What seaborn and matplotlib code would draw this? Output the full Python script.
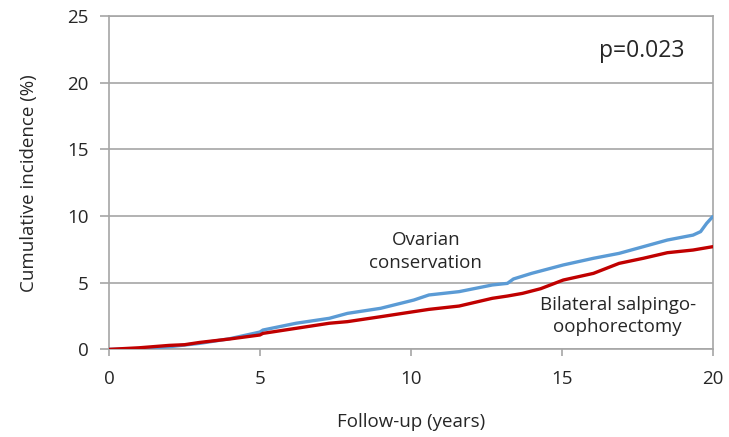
import matplotlib.pyplot as plt
import seaborn as sns
import pandas as pd

# follow-up years and cumulative incidence (%)
years_oc = [0, 1, 2, 3, 4, 5, 5.1, 6.2, 7.3, 7.9, 9.0, 10.1, 10.6, 11.6, 12.7, 13.2,
            13.4, 14.0, 15.05, 16.05, 16.9, 17.7, 18.5, 19.35, 19.6, 19.8, 20]
inc_oc = [0, 0.05, 0.2, 0.45, 0.8, 1.3, 1.45, 1.96, 2.33, 2.7, 3.08, 3.7, 4.08, 4.33, 4.83, 4.95,
          5.28, 5.7, 6.33, 6.83, 7.2, 7.7, 8.2, 8.57, 8.83, 9.45, 9.95]

years_bso = [0, 1, 2, 2.5, 3, 4, 5, 5.1, 6.2, 7.3, 7.9, 9.0, 10.1, 10.6, 11.6, 12.7, 13.2,
             13.7, 14.3, 15.05, 16.05, 16.9, 17.7, 18.5, 19.35, 20]
inc_bso = [0, 0.12, 0.3, 0.35, 0.52, 0.78, 1.08, 1.2, 1.58, 1.96, 2.08, 2.45, 2.83, 3.0, 3.25, 3.83, 4.0,
           4.2, 4.55, 5.2, 5.7, 6.45, 6.83, 7.25, 7.45, 7.7]

blue = "#5b9bd5"
red = "#c00000"
grey = "#a6a6a6"
txt = "#262626"

sns.set_style("white")
plt.rcParams['font.family'] = ['Open Sans', 'DejaVu Sans']

fig = plt.figure(figsize=(7.29, 4.37), dpi=100)
ax = fig.add_axes([0.1495, 0.2005, 0.8281, 0.7629])

df_oc = pd.DataFrame({"years": years_oc, "inc": inc_oc})
df_bso = pd.DataFrame({"years": years_bso, "inc": inc_bso})
sns.lineplot(data=df_oc, x="years", y="inc", color=blue, linewidth=2.4, ax=ax, zorder=3)
sns.lineplot(data=df_bso, x="years", y="inc", color=red, linewidth=2.4, ax=ax, zorder=4)

ax.set_xlim(0, 20)
ax.set_ylim(0, 25)
ax.set_xticks([0, 5, 10, 15, 20])
ax.set_yticks([0, 5, 10, 15, 20, 25])
ax.yaxis.grid(True, color=grey, linewidth=1.2)
ax.set_axisbelow(True)
for side in ["left", "bottom", "right", "top"]:
    ax.spines[side].set_visible(True)
    ax.spines[side].set_color(grey)
    ax.spines[side].set_linewidth(1.2)
ax.tick_params(axis="y", which="both", left=True, length=6.5, width=1.2, color=grey,
               pad=8, labelsize=13.5, labelcolor=txt)
ax.tick_params(axis="x", which="both", bottom=True, length=5, width=1.2, color=grey,
               pad=10, labelsize=13.5, labelcolor=txt)

ax.set_xlabel("Follow-up (years)", fontsize=13.5, color=txt, labelpad=18)
ax.set_ylabel("Cumulative incidence (%)", fontsize=13.5, color=txt, labelpad=21)

ax.text(17.66, 22.4, "p=0.023", fontsize=16.5, color=txt, ha="center", va="center")
ax.text(10.5, 7.35, "Ovarian\nconservation", fontsize=13.5, color=txt, ha="center",
        va="center", linespacing=1.35)
ax.text(16.85, 2.5, "Bilateral salpingo-\noophorectomy", fontsize=13.5, color=txt,
        ha="center", va="center", linespacing=1.35)

fig.savefig("out.png", dpi=100)
